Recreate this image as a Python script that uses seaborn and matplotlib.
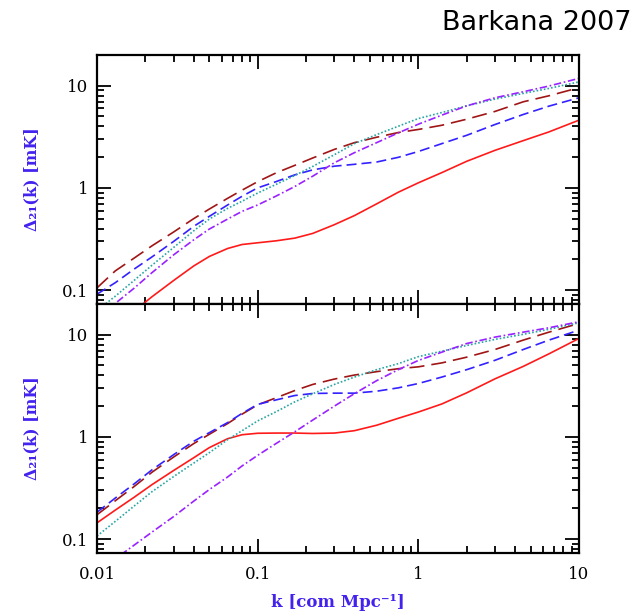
import numpy as np
import pandas as pd
import matplotlib
matplotlib.use("Agg")
import matplotlib.pyplot as plt
import seaborn as sns
from matplotlib.ticker import LogLocator, FixedLocator, FixedFormatter, NullFormatter

# ---------------- data ----------------
k = [0.01, 0.013, 0.017, 0.022, 0.03, 0.04, 0.05, 0.065, 0.08, 0.1,
     0.13, 0.17, 0.22, 0.3, 0.4, 0.55, 0.75, 1.0,
     1.4, 2.0, 3.0, 4.5, 6.5, 10.0]

# top panel
top_solid_red = [0.028, 0.041, 0.062, 0.086, 0.124, 0.172, 0.213, 0.255, 0.279, 0.29,
                 0.303, 0.322, 0.358, 0.436, 0.535, 0.697, 0.906, 1.12,
                 1.41, 1.82, 2.33, 2.9, 3.53, 4.6]
top_longdash = [0.105, 0.154, 0.205, 0.271, 0.37, 0.5, 0.62, 0.79, 0.95, 1.15,
                1.4, 1.66, 1.96, 2.38, 2.77, 3.13, 3.48, 3.73,
                4.1, 4.7, 5.6, 6.96, 7.97, 9.56]
top_dash_blue = [0.091, 0.118, 0.16, 0.211, 0.299, 0.42, 0.526, 0.68, 0.828, 1.0,
                 1.15, 1.34, 1.5, 1.63, 1.7, 1.79, 1.99, 2.27,
                 2.71, 3.27, 4.17, 5.23, 6.31, 7.62]
top_dotted = [0.063, 0.087, 0.124, 0.175, 0.261, 0.38, 0.495, 0.63, 0.74, 0.89,
              1.08, 1.32, 1.62, 2.11, 2.71, 3.32, 4.01, 4.77,
              5.46, 6.35, 7.39, 8.41, 9.41, 10.9]
top_dashdot = [0.048, 0.074, 0.104, 0.148, 0.221, 0.31, 0.395, 0.495, 0.589, 0.68,
               0.83, 1.03, 1.3, 1.76, 2.21, 2.77, 3.45, 4.2,
               5.15, 6.35, 7.62, 8.73, 9.93, 11.8]

# bottom panel
bot_solid_red = [0.144, 0.192, 0.256, 0.341, 0.469, 0.625, 0.785, 0.96, 1.05, 1.085,
                 1.09, 1.09, 1.08, 1.09, 1.15, 1.3, 1.52, 1.75,
                 2.1, 2.7, 3.7, 4.9, 6.5, 9.2]
bot_longdash = [0.173, 0.237, 0.326, 0.451, 0.635, 0.86, 1.06, 1.35, 1.67, 2.06,
                2.41, 2.84, 3.26, 3.68, 4.03, 4.35, 4.65, 4.85,
                5.3, 6.03, 7.17, 8.86, 10.6, 12.9]
bot_dash_blue = [0.183, 0.252, 0.346, 0.476, 0.67, 0.906, 1.1, 1.38, 1.7, 2.08,
                 2.3, 2.54, 2.66, 2.68, 2.68, 2.8, 3.02, 3.33,
                 3.85, 4.55, 5.62, 7.17, 8.86, 11.1]
bot_dotted = [0.107, 0.149, 0.21, 0.291, 0.409, 0.554, 0.70, 0.94, 1.15, 1.435,
              1.76, 2.2, 2.64, 3.26, 3.85, 4.55, 5.21, 6.1,
              6.9, 7.85, 9.0, 10.1, 11.3, 13.1]
bot_dashdot = [0.048, 0.064, 0.087, 0.117, 0.166, 0.235, 0.305, 0.405, 0.52, 0.66,
               0.86, 1.12, 1.46, 2.0, 2.65, 3.55, 4.55, 5.6,
               6.75, 8.2, 9.48, 10.6, 11.7, 13.4]

x_ticks = [0.01, 0.1, 1, 10]
x_tick_labels = ["0.01", "0.1", "1", "10"]
y_ticks = [0.1, 1, 10]
y_tick_labels = ["0.1", "1", "10"]

title = "Barkana 2007"
ylabel = "Δ₂₁(k) [mK]"
xlabel = "k [com Mpc⁻¹]"

# ---------------- style ----------------
sns.set_style("white")
plt.rcParams["font.family"] = ["DejaVu Serif", "DejaVu Sans"]
plt.rcParams["axes.linewidth"] = 1.6

styles = [
    ("#ff1a1a", "-"),
    ("#a01515", (0, (9, 4.2))),
    ("#3322ff", (0, (6, 3))),
    ("#2aa5a5", (0, (1, 1.2))),
    ("#9922ff", (0, (4.5, 1.6, 1, 1.6))),
]

fig = plt.figure(figsize=(6.39, 6.12), dpi=100)
ax_top = fig.add_axes([0.1518, 0.5033, 0.7543, 0.4069])
ax_bot = fig.add_axes([0.1518, 0.0964, 0.7543, 0.4069])

panels = [
    (ax_top, [top_solid_red, top_longdash, top_dash_blue, top_dotted, top_dashdot]),
    (ax_bot, [bot_solid_red, bot_longdash, bot_dash_blue, bot_dotted, bot_dashdot]),
]

label_color = "#4422ee"

for ax, series in panels:
    for vals, (col, ls) in zip(series, styles):
        df = pd.DataFrame({"k": k, "d": vals})
        sns.lineplot(data=df, x="k", y="d", ax=ax, color=col, linestyle=ls,
                     linewidth=1.2, estimator=None, sort=False)
    ax.set_xscale("log")
    ax.set_yscale("log")
    ax.set_xlim(0.01, 10)
    ax.set_ylim(0.073, 20)
    ax.xaxis.set_major_locator(FixedLocator(x_ticks))
    ax.yaxis.set_major_locator(FixedLocator(y_ticks))
    ax.xaxis.set_minor_locator(LogLocator(base=10, subs=np.arange(2, 10)))
    ax.yaxis.set_minor_locator(LogLocator(base=10, subs=np.arange(2, 10)))
    ax.yaxis.set_major_formatter(FixedFormatter(y_tick_labels))
    ax.yaxis.set_minor_formatter(NullFormatter())
    ax.xaxis.set_minor_formatter(NullFormatter())
    ax.tick_params(which="both", direction="in", top=True, right=True,
                   bottom=True, left=True, width=1.3, colors="black",
                   labelsize=12)
    ax.tick_params(which="major", length=10)
    ax.tick_params(which="minor", length=5)
    ax.tick_params(axis="y", which="major", pad=6)
    for s in ax.spines.values():
        s.set_color("black")
        s.set_linewidth(1.6)
    ax.set_ylabel(ylabel, color=label_color, fontsize=11.5, fontweight="bold",
                  labelpad=16)
    ax.set_xlabel("")

ax_top.xaxis.set_major_formatter(NullFormatter())
ax_bot.xaxis.set_major_formatter(FixedFormatter(x_tick_labels))
ax_bot.tick_params(axis="x", which="major", pad=9)
ax_bot.set_xlabel(xlabel, color=label_color, fontsize=12, fontweight="bold",
                  labelpad=8)

fig.text(0.988, 0.962, title, ha="right", va="center", fontsize=19.5,
         family=["DejaVu Sans"], color="black")

fig.savefig("out.png", dpi=100)
